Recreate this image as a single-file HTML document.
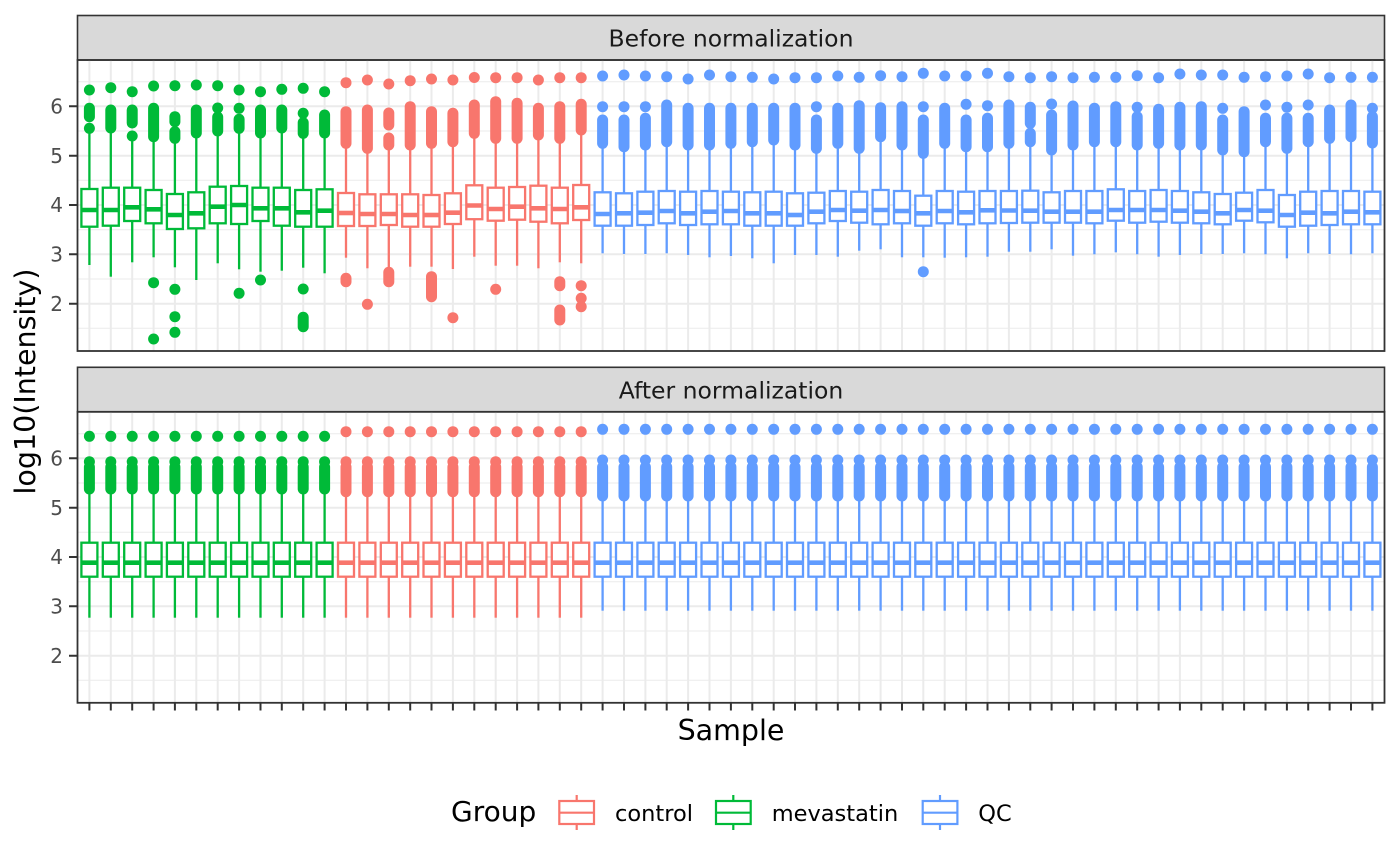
<!DOCTYPE html>
<html><head><meta charset="utf-8">
<style>
html,body{margin:0;padding:0;background:#fff;}
svg{display:block;font-family:"DejaVu Sans","Liberation Sans",sans-serif;}
.w{stroke-width:2.3;fill:none}
.m{stroke-width:4.6}
.o{stroke-width:11;stroke-linecap:round}
circle{stroke:none}
rect.bx{fill:#fff;stroke-width:2.3}
</style></head><body>
<svg width="1400" height="865" viewBox="0 0 1400 865" xmlns="http://www.w3.org/2000/svg">
<rect width="1400" height="865" fill="#fff"/>
<defs>
<path id="vg" d="M89.4 60v291M110.8 60v291M132.2 60v291M153.6 60v291M174.9 60v291M196.3 60v291M217.7 60v291M239.1 60v291M260.5 60v291M281.8 60v291M303.2 60v291M324.6 60v291M346 60v291M367.4 60v291M388.8 60v291M410.2 60v291M431.5 60v291M452.9 60v291M474.3 60v291M495.7 60v291M517.1 60v291M538.4 60v291M559.8 60v291M581.2 60v291M602.6 60v291M624 60v291M645.4 60v291M666.7 60v291M688.1 60v291M709.5 60v291M730.9 60v291M752.3 60v291M773.7 60v291M795 60v291M816.4 60v291M837.8 60v291M859.2 60v291M880.6 60v291M902 60v291M923.3 60v291M944.7 60v291M966.1 60v291M987.5 60v291M1008.9 60v291M1030.3 60v291M1051.6 60v291M1073 60v291M1094.4 60v291M1115.8 60v291M1137.2 60v291M1158.6 60v291M1179.9 60v291M1201.3 60v291M1222.7 60v291M1244.1 60v291M1265.5 60v291M1286.9 60v291M1308.2 60v291M1329.6 60v291M1351 60v291M1372.4 60v291" stroke="#EBEBEB" stroke-width="2" fill="none"/>
<g id="tg" stroke="#00BA38" fill="#00BA38"><circle cy="436.3" r="5.5"/><circle cy="461.7" r="5.5"/><line class="o" y1="467" y2="489"/><line class="w" y1="489" y2="542.7"/><line class="w" y1="576.7" y2="617.7"/><rect class="bx" x="-8" y="542.7" width="16" height="34"/><line class="m" x1="-8" x2="8" y1="562.7" y2="562.7"/></g>
<g id="tr" stroke="#F8766D" fill="#F8766D"><circle cy="431.7" r="5.5"/><circle cy="461.7" r="5.5"/><line class="o" y1="467" y2="491.7"/><line class="w" y1="491.7" y2="542.7"/><line class="w" y1="576.7" y2="617.7"/><rect class="bx" x="-8" y="542.7" width="16" height="34"/><line class="m" x1="-8" x2="8" y1="562.7" y2="562.7"/></g>
<g id="tb" stroke="#619CFF" fill="#619CFF"><circle cy="429.3" r="5.5"/><circle cy="460" r="5.5"/><line class="o" y1="467" y2="496"/><line class="w" y1="496" y2="542.7"/><line class="w" y1="576.7" y2="610.7"/><rect class="bx" x="-8" y="542.7" width="16" height="34"/><line class="m" x1="-8" x2="8" y1="562.7" y2="562.7"/></g>
</defs>

<!-- ===== Panel 1 ===== -->
<rect x="77.5" y="15.5" width="1307" height="44.5" fill="#D9D9D9" stroke="#333" stroke-width="1.6"/>
<text x="731" y="46.5" text-anchor="middle" font-size="23.5" fill="#1A1A1A">Before normalization</text>
<path d="M78 81.7H1384M78 131H1384M78 180.3H1384M78 229.7H1384M78 279H1384M78 328.3H1384" stroke="#EBEBEB" stroke-width="1"/>
<path d="M78 106.3H1384M78 155.7H1384M78 205H1384M78 254.3H1384M78 303.7H1384" stroke="#EBEBEB" stroke-width="2"/>
<use href="#vg"/>

<g stroke="#00BA38" fill="#00BA38">
<g transform="translate(89.4,0)"><circle cy="90" r="5.5"/><line class="o" y1="108.3" y2="116.7"/><circle cy="128.3" r="5.5"/><line class="w" y1="128.3" y2="189"/><line class="w" y1="226.7" y2="265"/><rect class="bx" x="-8" y="189" width="16" height="37.7"/><line class="m" x1="-8" x2="8" y1="210" y2="210"/></g>
<g transform="translate(110.8,0)"><circle cy="87.7" r="5.5"/><line class="o" y1="110" y2="128"/><line class="w" y1="128" y2="187.7"/><line class="w" y1="225.7" y2="276.7"/><rect class="bx" x="-8" y="187.7" width="16" height="38"/><line class="m" x1="-8" x2="8" y1="210" y2="210"/></g>
<g transform="translate(132.2,0)"><circle cy="91.7" r="5.5"/><line class="o" y1="110" y2="123"/><circle cy="136" r="5.5"/><line class="w" y1="136" y2="187.7"/><line class="w" y1="221" y2="262.3"/><rect class="bx" x="-8" y="187.7" width="16" height="33.3"/><line class="m" x1="-8" x2="8" y1="207.3" y2="207.3"/></g>
<g transform="translate(153.6,0)"><circle cy="86" r="5.5"/><line class="o" y1="108.3" y2="136.7"/><line class="w" y1="136.7" y2="190"/><line class="w" y1="223.3" y2="257.3"/><rect class="bx" x="-8" y="190" width="16" height="33.3"/><line class="m" x1="-8" x2="8" y1="209.3" y2="209.3"/><circle cy="282.7" r="5.5"/><circle cy="339" r="5.5"/></g>
<g transform="translate(174.9,0)"><circle cy="85.7" r="5.5"/><line class="o" y1="116.7" y2="121.7"/><line class="o" y1="131.7" y2="138.3"/><line class="w" y1="138.3" y2="194"/><line class="w" y1="229" y2="267.3"/><rect class="bx" x="-8" y="194" width="16" height="35"/><line class="m" x1="-8" x2="8" y1="215" y2="215"/><circle cy="289.3" r="5.5"/><circle cy="316.7" r="5.5"/><circle cy="332.3" r="5.5"/></g>
<g transform="translate(196.3,0)"><circle cy="85" r="5.5"/><line class="o" y1="110" y2="133"/><line class="w" y1="133" y2="192.3"/><line class="w" y1="228.3" y2="280"/><rect class="bx" x="-8" y="192.3" width="16" height="36"/><line class="m" x1="-8" x2="8" y1="213.3" y2="213.3"/></g>
<g transform="translate(217.7,0)"><circle cy="85.7" r="5.5"/><circle cy="108" r="5.5"/><line class="o" y1="117" y2="131"/><line class="w" y1="131" y2="186.7"/><line class="w" y1="223.3" y2="263.3"/><rect class="bx" x="-8" y="186.7" width="16" height="36.6"/><line class="m" x1="-8" x2="8" y1="206.7" y2="206.7"/></g>
<g transform="translate(239.1,0)"><circle cy="90" r="5.5"/><circle cy="108.3" r="5.5"/><line class="o" y1="119.3" y2="128.3"/><line class="w" y1="128.3" y2="186"/><line class="w" y1="224" y2="269.3"/><rect class="bx" x="-8" y="186" width="16" height="38"/><line class="m" x1="-8" x2="8" y1="205" y2="205"/><circle cy="293.3" r="5.5"/></g>
<g transform="translate(260.5,0)"><circle cy="91.7" r="5.5"/><line class="o" y1="110" y2="133"/><line class="w" y1="133" y2="187.7"/><line class="w" y1="221" y2="271.7"/><rect class="bx" x="-8" y="187.7" width="16" height="33.3"/><line class="m" x1="-8" x2="8" y1="208.3" y2="208.3"/><circle cy="280" r="5.5"/></g>
<g transform="translate(281.8,0)"><circle cy="89.3" r="5.5"/><line class="o" y1="110" y2="128"/><line class="w" y1="128" y2="187.7"/><line class="w" y1="225.7" y2="270.7"/><rect class="bx" x="-8" y="187.7" width="16" height="38"/><line class="m" x1="-8" x2="8" y1="208.3" y2="208.3"/></g>
<g transform="translate(303.2,0)"><circle cy="88.3" r="5.5"/><circle cy="113.3" r="5.5"/><line class="o" y1="122.7" y2="133.3"/><line class="w" y1="133.3" y2="190"/><line class="w" y1="226.7" y2="267.7"/><rect class="bx" x="-8" y="190" width="16" height="36.7"/><line class="m" x1="-8" x2="8" y1="212.3" y2="212.3"/><circle cy="289" r="5.5"/><line class="o" y1="317.3" y2="326.7"/></g>
<g transform="translate(324.6,0)"><circle cy="91.7" r="5.5"/><line class="o" y1="115" y2="133"/><line class="w" y1="133" y2="189.3"/><line class="w" y1="226.7" y2="273.3"/><rect class="bx" x="-8" y="189.3" width="16" height="37.4"/><line class="m" x1="-8" x2="8" y1="210.7" y2="210.7"/></g>
</g>

<g stroke="#F8766D" fill="#F8766D">
<g transform="translate(346,0)"><circle cy="82.7" r="5.5"/><line class="o" y1="111.7" y2="143.3"/><line class="w" y1="143.3" y2="193"/><line class="w" y1="226" y2="257.7"/><rect class="bx" x="-8" y="193" width="16" height="33"/><line class="m" x1="-8" x2="8" y1="213" y2="213"/><line class="o" y1="278.3" y2="281.7"/></g>
<g transform="translate(367.4,0)"><circle cy="80" r="5.5"/><line class="o" y1="110" y2="148.3"/><line class="w" y1="148.3" y2="194.3"/><line class="w" y1="226" y2="268.3"/><rect class="bx" x="-8" y="194.3" width="16" height="31.7"/><line class="m" x1="-8" x2="8" y1="214" y2="214"/><circle cy="304.3" r="5.5"/></g>
<g transform="translate(388.8,0)"><circle cy="84" r="5.5"/><line class="o" y1="113" y2="125"/><line class="o" y1="138" y2="145"/><line class="w" y1="145" y2="194.3"/><line class="w" y1="225" y2="268.3"/><rect class="bx" x="-8" y="194.3" width="16" height="30.7"/><line class="m" x1="-8" x2="8" y1="214" y2="214"/><line class="o" y1="272.3" y2="281.7"/></g>
<g transform="translate(410.2,0)"><circle cy="80.7" r="5.5"/><line class="o" y1="106.7" y2="145"/><line class="w" y1="145" y2="194.3"/><line class="w" y1="226.7" y2="266.7"/><rect class="bx" x="-8" y="194.3" width="16" height="32.4"/><line class="m" x1="-8" x2="8" y1="215" y2="215"/></g>
<g transform="translate(431.5,0)"><circle cy="79" r="5.5"/><line class="o" y1="111.7" y2="143.3"/><line class="w" y1="143.3" y2="195"/><line class="w" y1="226.7" y2="266.7"/><rect class="bx" x="-8" y="195" width="16" height="31.7"/><line class="m" x1="-8" x2="8" y1="215" y2="215"/><line class="o" y1="276.7" y2="296.7"/></g>
<g transform="translate(452.9,0)"><circle cy="80" r="5.5"/><line class="o" y1="113.3" y2="141.7"/><line class="w" y1="141.7" y2="193.3"/><line class="w" y1="224" y2="269"/><rect class="bx" x="-8" y="193.3" width="16" height="30.7"/><line class="m" x1="-8" x2="8" y1="212.7" y2="212.7"/><circle cy="317.7" r="5.5"/></g>
<g transform="translate(474.3,0)"><circle cy="77.5" r="5.5"/><line class="o" y1="105" y2="133.3"/><line class="w" y1="133.3" y2="185.3"/><line class="w" y1="219.2" y2="256.7"/><rect class="bx" x="-8" y="185.3" width="16" height="33.9"/><line class="m" x1="-8" x2="8" y1="205.5" y2="205.5"/></g>
<g transform="translate(495.7,0)"><circle cy="77.7" r="5.5"/><line class="o" y1="101.7" y2="138.3"/><line class="w" y1="138.3" y2="187.7"/><line class="w" y1="220.7" y2="265.7"/><rect class="bx" x="-8" y="187.7" width="16" height="33"/><line class="m" x1="-8" x2="8" y1="209" y2="209"/><circle cy="289.3" r="5.5"/></g>
<g transform="translate(517.1,0)"><circle cy="77.7" r="5.5"/><line class="o" y1="103.3" y2="138.3"/><line class="w" y1="138.3" y2="187"/><line class="w" y1="219.7" y2="265.7"/><rect class="bx" x="-8" y="187" width="16" height="32.7"/><line class="m" x1="-8" x2="8" y1="206.7" y2="206.7"/></g>
<g transform="translate(538.4,0)"><circle cy="80" r="5.5"/><line class="o" y1="108.3" y2="135"/><line class="w" y1="135" y2="185.7"/><line class="w" y1="221.7" y2="268.3"/><rect class="bx" x="-8" y="185.7" width="16" height="36"/><line class="m" x1="-8" x2="8" y1="208.3" y2="208.3"/></g>
<g transform="translate(559.8,0)"><circle cy="77.7" r="5.5"/><line class="o" y1="106.7" y2="138.3"/><line class="w" y1="138.3" y2="187.7"/><line class="w" y1="223.3" y2="262.3"/><rect class="bx" x="-8" y="187.7" width="16" height="35.6"/><line class="m" x1="-8" x2="8" y1="209" y2="209"/><line class="o" y1="281.7" y2="285.7"/><line class="o" y1="310" y2="320"/></g>
<g transform="translate(581.2,0)"><circle cy="77.7" r="5.5"/><line class="o" y1="104.3" y2="130"/><line class="w" y1="130" y2="185"/><line class="w" y1="220" y2="263.3"/><rect class="bx" x="-8" y="185" width="16" height="35"/><line class="m" x1="-8" x2="8" y1="207.3" y2="207.3"/><circle cy="285.7" r="5.5"/><circle cy="298.3" r="5.5"/><circle cy="306.7" r="5.5"/></g>
</g>

<g stroke="#619CFF" fill="#619CFF">
<g transform="translate(602.6,0)"><circle cy="76" r="5.5"/><circle cy="106.7" r="5.5"/><line class="o" y1="120" y2="143.3"/><line class="w" y1="143.3" y2="192.3"/><line class="w" y1="225.7" y2="253.3"/><rect class="bx" x="-8" y="192.3" width="16" height="33.4"/><line class="m" x1="-8" x2="8" y1="214" y2="214"/></g>
<g transform="translate(624,0)"><circle cy="75" r="5.5"/><circle cy="106.7" r="5.5"/><line class="o" y1="120" y2="146.7"/><line class="w" y1="146.7" y2="193.3"/><line class="w" y1="225.7" y2="254"/><rect class="bx" x="-8" y="193.3" width="16" height="32.4"/><line class="m" x1="-8" x2="8" y1="213.3" y2="213.3"/></g>
<g transform="translate(645.4,0)"><circle cy="76" r="5.5"/><circle cy="106.7" r="5.5"/><line class="o" y1="118.3" y2="145"/><line class="w" y1="145" y2="191.7"/><line class="w" y1="225" y2="254"/><rect class="bx" x="-8" y="191.7" width="16" height="33.3"/><line class="m" x1="-8" x2="8" y1="212.7" y2="212.7"/></g>
<g transform="translate(666.7,0)"><circle cy="76.7" r="5.5"/><line class="o" y1="105" y2="141.7"/><line class="w" y1="141.7" y2="191"/><line class="w" y1="223.3" y2="253.3"/><rect class="bx" x="-8" y="191" width="16" height="32.3"/><line class="m" x1="-8" x2="8" y1="211" y2="211"/></g>
<g transform="translate(688.1,0)"><circle cy="79" r="5.5"/><line class="o" y1="108.3" y2="145"/><line class="w" y1="145" y2="191.7"/><line class="w" y1="225" y2="255"/><rect class="bx" x="-8" y="191.7" width="16" height="33.3"/><line class="m" x1="-8" x2="8" y1="213.3" y2="213.3"/></g>
<g transform="translate(709.5,0)"><circle cy="75" r="5.5"/><line class="o" y1="108.3" y2="145"/><line class="w" y1="145" y2="191"/><line class="w" y1="224.3" y2="257.3"/><rect class="bx" x="-8" y="191" width="16" height="33.3"/><line class="m" x1="-8" x2="8" y1="211.7" y2="211.7"/></g>
<g transform="translate(730.9,0)"><circle cy="76.7" r="5.5"/><line class="o" y1="108.3" y2="143.3"/><line class="w" y1="143.3" y2="191.7"/><line class="w" y1="224.3" y2="256"/><rect class="bx" x="-8" y="191.7" width="16" height="32.6"/><line class="m" x1="-8" x2="8" y1="211" y2="211"/></g>
<g transform="translate(752.3,0)"><circle cy="77.3" r="5.5"/><line class="o" y1="108.3" y2="141.7"/><line class="w" y1="141.7" y2="192.3"/><line class="w" y1="225.7" y2="258.3"/><rect class="bx" x="-8" y="192.3" width="16" height="33.4"/><line class="m" x1="-8" x2="8" y1="213.3" y2="213.3"/></g>
<g transform="translate(773.7,0)"><circle cy="79" r="5.5"/><line class="o" y1="108.3" y2="140"/><line class="w" y1="140" y2="191.7"/><line class="w" y1="225.7" y2="263.3"/><rect class="bx" x="-8" y="191.7" width="16" height="34"/><line class="m" x1="-8" x2="8" y1="213.3" y2="213.3"/></g>
<g transform="translate(795,0)"><circle cy="77.7" r="5.5"/><line class="o" y1="108.3" y2="145"/><line class="w" y1="145" y2="193.3"/><line class="w" y1="225.7" y2="255"/><rect class="bx" x="-8" y="193.3" width="16" height="32.4"/><line class="m" x1="-8" x2="8" y1="215" y2="215"/></g>
<g transform="translate(816.4,0)"><circle cy="77.7" r="5.5"/><circle cy="106.7" r="5.5"/><line class="o" y1="120" y2="148.3"/><line class="w" y1="148.3" y2="192.7"/><line class="w" y1="223.3" y2="255"/><rect class="bx" x="-8" y="192.7" width="16" height="30.6"/><line class="m" x1="-8" x2="8" y1="211.7" y2="211.7"/></g>
<g transform="translate(837.8,0)"><circle cy="76" r="5.5"/><line class="o" y1="108.3" y2="143.3"/><line class="w" y1="143.3" y2="191"/><line class="w" y1="221" y2="256.7"/><rect class="bx" x="-8" y="191" width="16" height="30"/><line class="m" x1="-8" x2="8" y1="210" y2="210"/></g>
<g transform="translate(859.2,0)"><circle cy="77.3" r="5.5"/><line class="o" y1="105.7" y2="148.3"/><line class="w" y1="148.3" y2="191.7"/><line class="w" y1="222.7" y2="250.7"/><rect class="bx" x="-8" y="191.7" width="16" height="31"/><line class="m" x1="-8" x2="8" y1="210.7" y2="210.7"/></g>
<g transform="translate(880.6,0)"><circle cy="75.7" r="5.5"/><line class="o" y1="107.7" y2="136.7"/><line class="w" y1="136.7" y2="190"/><line class="w" y1="224.3" y2="249.3"/><rect class="bx" x="-8" y="190" width="16" height="34.3"/><line class="m" x1="-8" x2="8" y1="210" y2="210"/></g>
<g transform="translate(902,0)"><circle cy="76.7" r="5.5"/><line class="o" y1="106.7" y2="145"/><line class="w" y1="145" y2="191"/><line class="w" y1="223.3" y2="257.3"/><rect class="bx" x="-8" y="191" width="16" height="32.3"/><line class="m" x1="-8" x2="8" y1="211" y2="211"/></g>
<g transform="translate(923.3,0)"><circle cy="73.3" r="5.5"/><circle cy="106.7" r="5.5"/><line class="o" y1="120" y2="153.3"/><line class="w" y1="153.3" y2="195.7"/><line class="w" y1="225.7" y2="257.3"/><rect class="bx" x="-8" y="195.7" width="16" height="30"/><line class="m" x1="-8" x2="8" y1="213.3" y2="213.3"/><circle cy="271.7" r="5.5"/></g>
<g transform="translate(944.7,0)"><circle cy="76" r="5.5"/><line class="o" y1="108.3" y2="143.3"/><line class="w" y1="143.3" y2="191"/><line class="w" y1="223.3" y2="257.7"/><rect class="bx" x="-8" y="191" width="16" height="32.3"/><line class="m" x1="-8" x2="8" y1="211" y2="211"/></g>
<g transform="translate(966.1,0)"><circle cy="76" r="5.5"/><circle cy="104.3" r="5.5"/><line class="o" y1="120" y2="146.7"/><line class="w" y1="146.7" y2="191.7"/><line class="w" y1="224.3" y2="257.3"/><rect class="bx" x="-8" y="191.7" width="16" height="32.6"/><line class="m" x1="-8" x2="8" y1="212.3" y2="212.3"/></g>
<g transform="translate(987.5,0)"><circle cy="73.3" r="5.5"/><circle cy="105.7" r="5.5"/><line class="o" y1="118.3" y2="146.7"/><line class="w" y1="146.7" y2="191"/><line class="w" y1="223.3" y2="256.7"/><rect class="bx" x="-8" y="191" width="16" height="32.3"/><line class="m" x1="-8" x2="8" y1="210.3" y2="210.3"/></g>
<g transform="translate(1008.9,0)"><circle cy="76.7" r="5.5"/><line class="o" y1="105" y2="143.3"/><line class="w" y1="143.3" y2="191"/><line class="w" y1="223" y2="251.7"/><rect class="bx" x="-8" y="191" width="16" height="32"/><line class="m" x1="-8" x2="8" y1="210.5" y2="210.5"/></g>
<g transform="translate(1030.3,0)"><circle cy="77.7" r="5.5"/><line class="o" y1="107.3" y2="123.3"/><line class="o" y1="133.3" y2="141.7"/><line class="w" y1="141.7" y2="190.7"/><line class="w" y1="222.7" y2="251.7"/><rect class="bx" x="-8" y="190.7" width="16" height="32"/><line class="m" x1="-8" x2="8" y1="210.7" y2="210.7"/></g>
<g transform="translate(1051.6,0)"><circle cy="76.7" r="5.5"/><circle cy="104" r="5.5"/><line class="o" y1="115" y2="150"/><line class="w" y1="150" y2="192.3"/><line class="w" y1="222.7" y2="249.3"/><rect class="bx" x="-8" y="192.3" width="16" height="30.4"/><line class="m" x1="-8" x2="8" y1="211.7" y2="211.7"/></g>
<g transform="translate(1073,0)"><circle cy="77.7" r="5.5"/><line class="o" y1="106" y2="145"/><line class="w" y1="145" y2="191"/><line class="w" y1="222.7" y2="255.7"/><rect class="bx" x="-8" y="191" width="16" height="31.7"/><line class="m" x1="-8" x2="8" y1="211.7" y2="211.7"/></g>
<g transform="translate(1094.4,0)"><circle cy="77.3" r="5.5"/><line class="o" y1="108.3" y2="141.7"/><line class="w" y1="141.7" y2="191"/><line class="w" y1="223.3" y2="254.3"/><rect class="bx" x="-8" y="191" width="16" height="32.3"/><line class="m" x1="-8" x2="8" y1="211.7" y2="211.7"/></g>
<g transform="translate(1115.8,0)"><circle cy="77.3" r="5.5"/><line class="o" y1="106.7" y2="141.7"/><line class="w" y1="141.7" y2="189.3"/><line class="w" y1="220.7" y2="252.3"/><rect class="bx" x="-8" y="189.3" width="16" height="31.4"/><line class="m" x1="-8" x2="8" y1="210" y2="210"/></g>
<g transform="translate(1137.2,0)"><circle cy="75.7" r="5.5"/><circle cy="107.3" r="5.5"/><line class="o" y1="116.7" y2="145"/><line class="w" y1="145" y2="191"/><line class="w" y1="222.7" y2="254.3"/><rect class="bx" x="-8" y="191" width="16" height="31.7"/><line class="m" x1="-8" x2="8" y1="210" y2="210"/></g>
<g transform="translate(1158.6,0)"><circle cy="77.7" r="5.5"/><line class="o" y1="109.3" y2="143.3"/><line class="w" y1="143.3" y2="190"/><line class="w" y1="221.7" y2="256.7"/><rect class="bx" x="-8" y="190" width="16" height="31.7"/><line class="m" x1="-8" x2="8" y1="210" y2="210"/></g>
<g transform="translate(1179.9,0)"><circle cy="74" r="5.5"/><line class="o" y1="107.3" y2="145"/><line class="w" y1="145" y2="191"/><line class="w" y1="222.7" y2="255"/><rect class="bx" x="-8" y="191" width="16" height="31.7"/><line class="m" x1="-8" x2="8" y1="210.7" y2="210.7"/></g>
<g transform="translate(1201.3,0)"><circle cy="75" r="5.5"/><line class="o" y1="106.7" y2="145"/><line class="w" y1="145" y2="192.3"/><line class="w" y1="223.3" y2="254"/><rect class="bx" x="-8" y="192.3" width="16" height="31"/><line class="m" x1="-8" x2="8" y1="211.7" y2="211.7"/></g>
<g transform="translate(1222.7,0)"><circle cy="75" r="5.5"/><circle cy="108.3" r="5.5"/><line class="o" y1="120" y2="150"/><line class="w" y1="150" y2="194"/><line class="w" y1="224.3" y2="254"/><rect class="bx" x="-8" y="194" width="16" height="30.3"/><line class="m" x1="-8" x2="8" y1="213.3" y2="213.3"/></g>
<g transform="translate(1244.1,0)"><circle cy="77.3" r="5.5"/><line class="o" y1="111.7" y2="151.7"/><line class="w" y1="151.7" y2="192.7"/><line class="w" y1="220.7" y2="253.3"/><rect class="bx" x="-8" y="192.7" width="16" height="28"/><line class="m" x1="-8" x2="8" y1="210" y2="210"/></g>
<g transform="translate(1265.5,0)"><circle cy="76.7" r="5.5"/><circle cy="105" r="5.5"/><line class="o" y1="118.3" y2="141.7"/><line class="w" y1="141.7" y2="190"/><line class="w" y1="222.3" y2="254.3"/><rect class="bx" x="-8" y="190" width="16" height="32.3"/><line class="m" x1="-8" x2="8" y1="210.7" y2="210.7"/></g>
<g transform="translate(1286.9,0)"><circle cy="76" r="5.5"/><circle cy="107.3" r="5.5"/><line class="o" y1="118.3" y2="148.3"/><line class="w" y1="148.3" y2="195"/><line class="w" y1="226.7" y2="258.3"/><rect class="bx" x="-8" y="195" width="16" height="31.7"/><line class="m" x1="-8" x2="8" y1="215" y2="215"/></g>
<g transform="translate(1308.2,0)"><circle cy="74" r="5.5"/><circle cy="105" r="5.5"/><line class="o" y1="118.3" y2="141.7"/><line class="w" y1="141.7" y2="191.7"/><line class="w" y1="225.7" y2="253.3"/><rect class="bx" x="-8" y="191.7" width="16" height="34"/><line class="m" x1="-8" x2="8" y1="212.7" y2="212.7"/></g>
<g transform="translate(1329.6,0)"><circle cy="77.7" r="5.5"/><line class="o" y1="110" y2="138.3"/><line class="w" y1="138.3" y2="191"/><line class="w" y1="225" y2="254"/><rect class="bx" x="-8" y="191" width="16" height="34"/><line class="m" x1="-8" x2="8" y1="213.3" y2="213.3"/></g>
<g transform="translate(1351,0)"><circle cy="77.3" r="5.5"/><line class="o" y1="105" y2="136.7"/><line class="w" y1="136.7" y2="191"/><line class="w" y1="224.3" y2="254.3"/><rect class="bx" x="-8" y="191" width="16" height="33.3"/><line class="m" x1="-8" x2="8" y1="211.7" y2="211.7"/></g>
<g transform="translate(1372.4,0)"><circle cy="77.3" r="5.5"/><circle cy="108.3" r="5.5"/><line class="o" y1="116.7" y2="143"/><line class="w" y1="143" y2="191.7"/><line class="w" y1="224.3" y2="253.3"/><rect class="bx" x="-8" y="191.7" width="16" height="32.6"/><line class="m" x1="-8" x2="8" y1="212.3" y2="212.3"/></g>
</g>

<rect x="77.5" y="60" width="1307" height="291" fill="none" stroke="#333" stroke-width="1.8"/>

<!-- ===== Panel 2 ===== -->
<rect x="77.5" y="367.3" width="1307" height="44.5" fill="#D9D9D9" stroke="#333" stroke-width="1.6"/>
<text x="731" y="398.3" text-anchor="middle" font-size="23.5" fill="#1A1A1A">After normalization</text>
<path d="M78 433.7H1384M78 483H1384M78 532.3H1384M78 581.7H1384M78 631H1384M78 680.3H1384" stroke="#EBEBEB" stroke-width="1"/>
<path d="M78 458.3H1384M78 507.7H1384M78 557H1384M78 606.3H1384M78 655.7H1384" stroke="#EBEBEB" stroke-width="2"/>
<use href="#vg" y="351.8"/>

<use href="#tg" x="89.4"/><use href="#tg" x="110.8"/><use href="#tg" x="132.2"/><use href="#tg" x="153.6"/><use href="#tg" x="174.9"/><use href="#tg" x="196.3"/><use href="#tg" x="217.7"/><use href="#tg" x="239.1"/><use href="#tg" x="260.5"/><use href="#tg" x="281.8"/><use href="#tg" x="303.2"/><use href="#tg" x="324.6"/>
<use href="#tr" x="346"/><use href="#tr" x="367.4"/><use href="#tr" x="388.8"/><use href="#tr" x="410.2"/><use href="#tr" x="431.5"/><use href="#tr" x="452.9"/><use href="#tr" x="474.3"/><use href="#tr" x="495.7"/><use href="#tr" x="517.1"/><use href="#tr" x="538.4"/><use href="#tr" x="559.8"/><use href="#tr" x="581.2"/>
<use href="#tb" x="602.6"/><use href="#tb" x="624"/><use href="#tb" x="645.4"/><use href="#tb" x="666.7"/><use href="#tb" x="688.1"/><use href="#tb" x="709.5"/><use href="#tb" x="730.9"/><use href="#tb" x="752.3"/><use href="#tb" x="773.7"/><use href="#tb" x="795"/><use href="#tb" x="816.4"/><use href="#tb" x="837.8"/><use href="#tb" x="859.2"/><use href="#tb" x="880.6"/><use href="#tb" x="902"/><use href="#tb" x="923.3"/><use href="#tb" x="944.7"/><use href="#tb" x="966.1"/><use href="#tb" x="987.5"/><use href="#tb" x="1008.9"/><use href="#tb" x="1030.3"/><use href="#tb" x="1051.6"/><use href="#tb" x="1073"/><use href="#tb" x="1094.4"/><use href="#tb" x="1115.8"/><use href="#tb" x="1137.2"/><use href="#tb" x="1158.6"/><use href="#tb" x="1179.9"/><use href="#tb" x="1201.3"/><use href="#tb" x="1222.7"/><use href="#tb" x="1244.1"/><use href="#tb" x="1265.5"/><use href="#tb" x="1286.9"/><use href="#tb" x="1308.2"/><use href="#tb" x="1329.6"/><use href="#tb" x="1351"/><use href="#tb" x="1372.4"/>

<rect x="77.5" y="411.8" width="1307" height="291" fill="none" stroke="#333" stroke-width="1.8"/>

<!-- ===== Axes ===== -->
<path d="M69 106.3H77M69 155.7H77M69 205H77M69 254.3H77M69 303.7H77M69 458.3H77M69 507.7H77M69 557H77M69 606.3H77M69 655.7H77" stroke="#333" stroke-width="2"/>
<g font-size="20" fill="#4D4D4D" text-anchor="end">
<text x="63" y="113.5">6</text><text x="63" y="162.9">5</text><text x="63" y="212.2">4</text><text x="63" y="261.5">3</text><text x="63" y="310.9">2</text>
<text x="63" y="465.5">6</text><text x="63" y="514.9">5</text><text x="63" y="564.2">4</text><text x="63" y="613.5">3</text><text x="63" y="662.9">2</text>
</g>
<path d="M89.4 703v7.5M110.8 703v7.5M132.2 703v7.5M153.6 703v7.5M174.9 703v7.5M196.3 703v7.5M217.7 703v7.5M239.1 703v7.5M260.5 703v7.5M281.8 703v7.5M303.2 703v7.5M324.6 703v7.5M346 703v7.5M367.4 703v7.5M388.8 703v7.5M410.2 703v7.5M431.5 703v7.5M452.9 703v7.5M474.3 703v7.5M495.7 703v7.5M517.1 703v7.5M538.4 703v7.5M559.8 703v7.5M581.2 703v7.5M602.6 703v7.5M624 703v7.5M645.4 703v7.5M666.7 703v7.5M688.1 703v7.5M709.5 703v7.5M730.9 703v7.5M752.3 703v7.5M773.7 703v7.5M795 703v7.5M816.4 703v7.5M837.8 703v7.5M859.2 703v7.5M880.6 703v7.5M902 703v7.5M923.3 703v7.5M944.7 703v7.5M966.1 703v7.5M987.5 703v7.5M1008.9 703v7.5M1030.3 703v7.5M1051.6 703v7.5M1073 703v7.5M1094.4 703v7.5M1115.8 703v7.5M1137.2 703v7.5M1158.6 703v7.5M1179.9 703v7.5M1201.3 703v7.5M1222.7 703v7.5M1244.1 703v7.5M1265.5 703v7.5M1286.9 703v7.5M1308.2 703v7.5M1329.6 703v7.5M1351 703v7.5M1372.4 703v7.5" stroke="#333" stroke-width="2"/>

<text x="731" y="740" text-anchor="middle" font-size="28.5" fill="#000">Sample</text>
<text transform="translate(35,381.5) rotate(-90)" text-anchor="middle" font-size="28.5" fill="#000">log10(Intensity)</text>

<!-- ===== Legend ===== -->
<text x="451" y="821" font-size="28" fill="#000">Group</text>
<g stroke="#F8766D" stroke-width="2.2" fill="#fff">
<rect x="559.3" y="801" width="34.7" height="23"/><line x1="559.3" x2="594" y1="812.7" y2="812.7"/><line x1="576.7" x2="576.7" y1="795" y2="801"/><line x1="576.7" x2="576.7" y1="824" y2="830"/>
</g>
<g stroke="#00BA38" stroke-width="2.2" fill="#fff">
<rect x="716" y="801" width="34.7" height="23"/><line x1="716" x2="750.7" y1="812.7" y2="812.7"/><line x1="733.3" x2="733.3" y1="795" y2="801"/><line x1="733.3" x2="733.3" y1="824" y2="830"/>
</g>
<g stroke="#619CFF" stroke-width="2.2" fill="#fff">
<rect x="922.7" y="801" width="34.7" height="23"/><line x1="922.7" x2="957.4" y1="812.7" y2="812.7"/><line x1="940" x2="940" y1="795" y2="801"/><line x1="940" x2="940" y1="824" y2="830"/>
</g>
<g font-size="22.5" fill="#000">
<text x="615" y="821">control</text>
<text x="771.7" y="821">mevastatin</text>
<text x="978.3" y="821">QC</text>
</g>
</svg>
</body></html>
